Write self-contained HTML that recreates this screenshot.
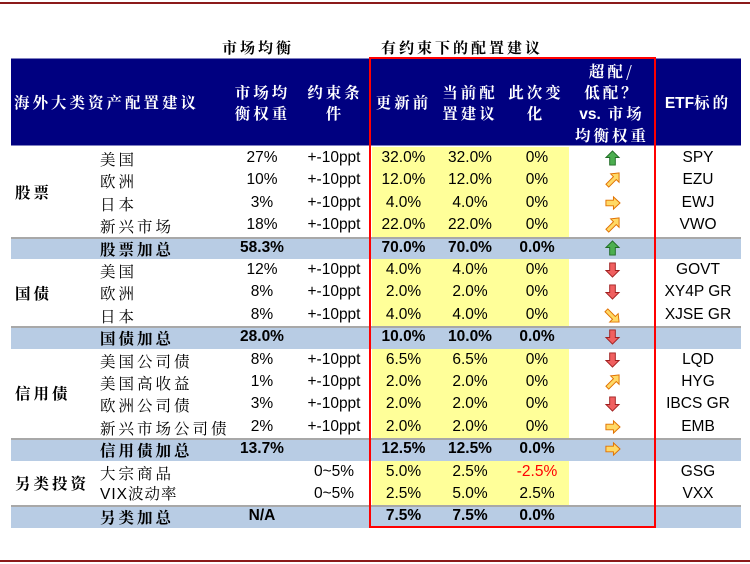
<!DOCTYPE html>
<html><head><meta charset="utf-8"><style>
body{margin:0;width:750px;height:564px;background:#fff;position:relative;overflow:hidden;font-family:"Liberation Sans","Noto Sans CJK SC",sans-serif;}
.ab{position:absolute}
.row{position:absolute;left:0;width:750px;height:22.4px;font-size:15.5px;color:#000}
.row span{position:absolute;top:0;height:22.4px;line-height:22.4px;text-align:center}
.sum{font-weight:bold}
.sumbg{position:absolute;left:11px;width:730px;height:22.4px;background:#b8cce4;border-top:2px solid #a8a8a8;box-sizing:border-box}
.yel{position:absolute;left:372px;width:197px;background:#ffff99}
.row span.a{left:100px;top:1px;line-height:22px;font-size:15.5px;text-align:left;font-family:"Noto Serif CJK SC","Liberation Serif",serif;white-space:nowrap;overflow:hidden;width:132px;letter-spacing:3px}
.sum .a{letter-spacing:3px}
.w{left:232px;width:60px}.c{left:298px;width:72px}
.p1{left:372px;width:63px}.p2{left:437px;width:66px}.p3{left:505px;width:64px}
.ar{left:569px;width:86px}.e{left:655px;width:86px}
.ar svg{position:absolute;left:35px;top:3px}
.g{position:absolute;left:15px;font-family:"Noto Serif CJK SC",serif;font-weight:bold;font-size:15.5px;letter-spacing:3px}
.hd{position:absolute;color:#fff;font-family:"Noto Serif CJK SC",serif;font-weight:bold;font-size:15.5px;text-align:center;line-height:21px;letter-spacing:3px}
</style></head><body>
<svg width="0" height="0" style="position:absolute">
<defs>
<symbol id="up" viewBox="0 0 18 17"><path d="M9 1 L16 8 L12 8 L12 16 L6 16 L6 8 L2 8 Z" fill="#4caf50" stroke="#1f6b25" stroke-width="1"/></symbol>
<symbol id="dn" viewBox="0 0 18 17"><path d="M9 16 L16 9 L12 9 L12 1 L6 1 L6 9 L2 9 Z" fill="#f06060" stroke="#a02020" stroke-width="1"/></symbol>
<symbol id="r" viewBox="0 0 18 17"><path d="M17 8.5 L10 2 L10 5.5 L2 5.5 L2 11.5 L10 11.5 L10 15 Z" fill="#ffd966" stroke="#e07000" stroke-width="1"/></symbol>
<symbol id="ur" viewBox="0 0 18 17"><path d="M16 1 L16 11 L13 8 L5 16 L2 13 L10 5 L7 2 Z" fill="#ffd966" stroke="#e07000" stroke-width="1"/></symbol>
<symbol id="dr" viewBox="0 0 18 17"><path d="M16 16 L6 16 L9 13 L1 5 L4 2 L12 10 L15 7 Z" fill="#ffd966" stroke="#e07000" stroke-width="1"/></symbol>
</defs></svg>
<div class="ab" style="left:0;top:2px;width:750px;height:2px;background:#8b1a1a"></div>
<div class="ab" style="left:0;top:560px;width:750px;height:2px;background:#8b1a1a"></div>
<div class="ab" style="left:222px;top:37px;font-family:'Noto Serif CJK SC',serif;font-weight:bold;font-size:15px;letter-spacing:3px">市场均衡</div>
<div class="ab" style="left:381px;top:37px;font-family:'Noto Serif CJK SC',serif;font-weight:bold;font-size:15px;letter-spacing:3px">有约束下的配置建议</div>
<div class="ab" style="left:11px;top:58px;width:730px;height:88px;background:#000080;border-top:1px solid #8080c0;border-bottom:1px solid #8080c0;box-sizing:border-box"></div>
<div class="hd" style="left:14px;top:92px;width:210px;text-align:left">海外大类资产配置建议</div>
<div class="hd" style="left:225px;top:82px;width:75px">市场均<br>衡权重</div>
<div class="hd" style="left:300px;top:82px;width:70px">约束条<br>件</div>
<div class="hd" style="left:372px;top:92px;width:63px">更新前</div>
<div class="hd" style="left:435px;top:82px;width:70px">当前配<br>置建议</div>
<div class="hd" style="left:503px;top:82px;width:66px">此次变<br>化</div>
<div class="hd" style="left:569px;top:61px;width:86px">超配/<br>低配？<br><span style="font-family:'Liberation Sans';letter-spacing:0">vs.</span> 市场<br>均衡权重</div>
<div class="hd" style="left:655px;top:92px;width:86px"><span style="font-family:'Liberation Sans';letter-spacing:0">ETF</span>标的</div>

<div class="yel" style="top:147px;height:89.6px"></div>
<div class="yel" style="top:259px;height:67.2px"></div>
<div class="yel" style="top:348.6px;height:89.6px"></div>
<div class="yel" style="top:460.6px;height:44.8px"></div>
<div class="sumbg" style="top:236.6px"></div>
<div class="sumbg" style="top:326.2px"></div>
<div class="sumbg" style="top:438.2px"></div>
<div class="sumbg" style="top:505.4px"></div>

<div class="g" style="top:181px">股票</div>
<div class="g" style="top:282px">国债</div>
<div class="g" style="top:382px">信用债</div>
<div class="g" style="top:472px">另类投资</div>

<div class="row" style="top:147px"><span class="a">美国</span><span class="w">27%</span><span class="c">+-10ppt</span><span class="p1">32.0%</span><span class="p2">32.0%</span><span class="p3">0%</span><span class="ar"><svg width="17" height="16"><use href="#up"/></svg></span><span class="e">SPY</span></div>
<div class="row" style="top:169.4px"><span class="a">欧洲</span><span class="w">10%</span><span class="c">+-10ppt</span><span class="p1">12.0%</span><span class="p2">12.0%</span><span class="p3">0%</span><span class="ar"><svg width="17" height="16"><use href="#ur"/></svg></span><span class="e">EZU</span></div>
<div class="row" style="top:191.8px"><span class="a">日本</span><span class="w">3%</span><span class="c">+-10ppt</span><span class="p1">4.0%</span><span class="p2">4.0%</span><span class="p3">0%</span><span class="ar"><svg width="17" height="16"><use href="#r"/></svg></span><span class="e">EWJ</span></div>
<div class="row" style="top:214.2px"><span class="a">新兴市场</span><span class="w">18%</span><span class="c">+-10ppt</span><span class="p1">22.0%</span><span class="p2">22.0%</span><span class="p3">0%</span><span class="ar"><svg width="17" height="16"><use href="#ur"/></svg></span><span class="e">VWO</span></div>
<div class="row sum" style="top:236.6px"><span class="a">股票加总</span><span class="w">58.3%</span><span class="p1">70.0%</span><span class="p2">70.0%</span><span class="p3">0.0%</span><span class="ar"><svg width="17" height="16"><use href="#up"/></svg></span></div>
<div class="row" style="top:259px"><span class="a">美国</span><span class="w">12%</span><span class="c">+-10ppt</span><span class="p1">4.0%</span><span class="p2">4.0%</span><span class="p3">0%</span><span class="ar"><svg width="17" height="16"><use href="#dn"/></svg></span><span class="e">GOVT</span></div>
<div class="row" style="top:281.4px"><span class="a">欧洲</span><span class="w">8%</span><span class="c">+-10ppt</span><span class="p1">2.0%</span><span class="p2">2.0%</span><span class="p3">0%</span><span class="ar"><svg width="17" height="16"><use href="#dn"/></svg></span><span class="e">XY4P GR</span></div>
<div class="row" style="top:303.8px"><span class="a">日本</span><span class="w">8%</span><span class="c">+-10ppt</span><span class="p1">4.0%</span><span class="p2">4.0%</span><span class="p3">0%</span><span class="ar"><svg width="17" height="16"><use href="#dr"/></svg></span><span class="e">XJSE GR</span></div>
<div class="row sum" style="top:326.2px"><span class="a">国债加总</span><span class="w">28.0%</span><span class="p1">10.0%</span><span class="p2">10.0%</span><span class="p3">0.0%</span><span class="ar"><svg width="17" height="16"><use href="#dn"/></svg></span></div>
<div class="row" style="top:348.6px"><span class="a">美国公司债</span><span class="w">8%</span><span class="c">+-10ppt</span><span class="p1">6.5%</span><span class="p2">6.5%</span><span class="p3">0%</span><span class="ar"><svg width="17" height="16"><use href="#dn"/></svg></span><span class="e">LQD</span></div>
<div class="row" style="top:371px"><span class="a">美国高收益</span><span class="w">1%</span><span class="c">+-10ppt</span><span class="p1">2.0%</span><span class="p2">2.0%</span><span class="p3">0%</span><span class="ar"><svg width="17" height="16"><use href="#ur"/></svg></span><span class="e">HYG</span></div>
<div class="row" style="top:393.4px"><span class="a">欧洲公司债</span><span class="w">3%</span><span class="c">+-10ppt</span><span class="p1">2.0%</span><span class="p2">2.0%</span><span class="p3">0%</span><span class="ar"><svg width="17" height="16"><use href="#dn"/></svg></span><span class="e">IBCS GR</span></div>
<div class="row" style="top:415.8px"><span class="a" style="width:126px">新兴市场公司债</span><span class="w">2%</span><span class="c">+-10ppt</span><span class="p1">2.0%</span><span class="p2">2.0%</span><span class="p3">0%</span><span class="ar"><svg width="17" height="16"><use href="#r"/></svg></span><span class="e">EMB</span></div>
<div class="row sum" style="top:438.2px"><span class="a">信用债加总</span><span class="w">13.7%</span><span class="p1">12.5%</span><span class="p2">12.5%</span><span class="p3">0.0%</span><span class="ar"><svg width="17" height="16"><use href="#r"/></svg></span></div>
<div class="row" style="top:460.6px"><span class="a">大宗商品</span><span class="c">0~5%</span><span class="p1">5.0%</span><span class="p2">2.5%</span><span class="p3" style="color:#ff0000">-2.5%</span><span class="e">GSG</span></div>
<div class="row" style="top:483px"><span class="a" style="font-family:'Liberation Sans','Noto Serif CJK SC',sans-serif;letter-spacing:1px">VIX波动率</span><span class="c">0~5%</span><span class="p1">2.5%</span><span class="p2">5.0%</span><span class="p3">2.5%</span><span class="e">VXX</span></div>
<div class="row sum" style="top:505.4px"><span class="a">另类加总</span><span class="w">N/A</span><span class="p1">7.5%</span><span class="p2">7.5%</span><span class="p3">0.0%</span></div>

<div class="ab" style="left:369px;top:57px;width:287px;height:471px;border:2px solid #ff0000;box-sizing:border-box"></div>
</body></html>
